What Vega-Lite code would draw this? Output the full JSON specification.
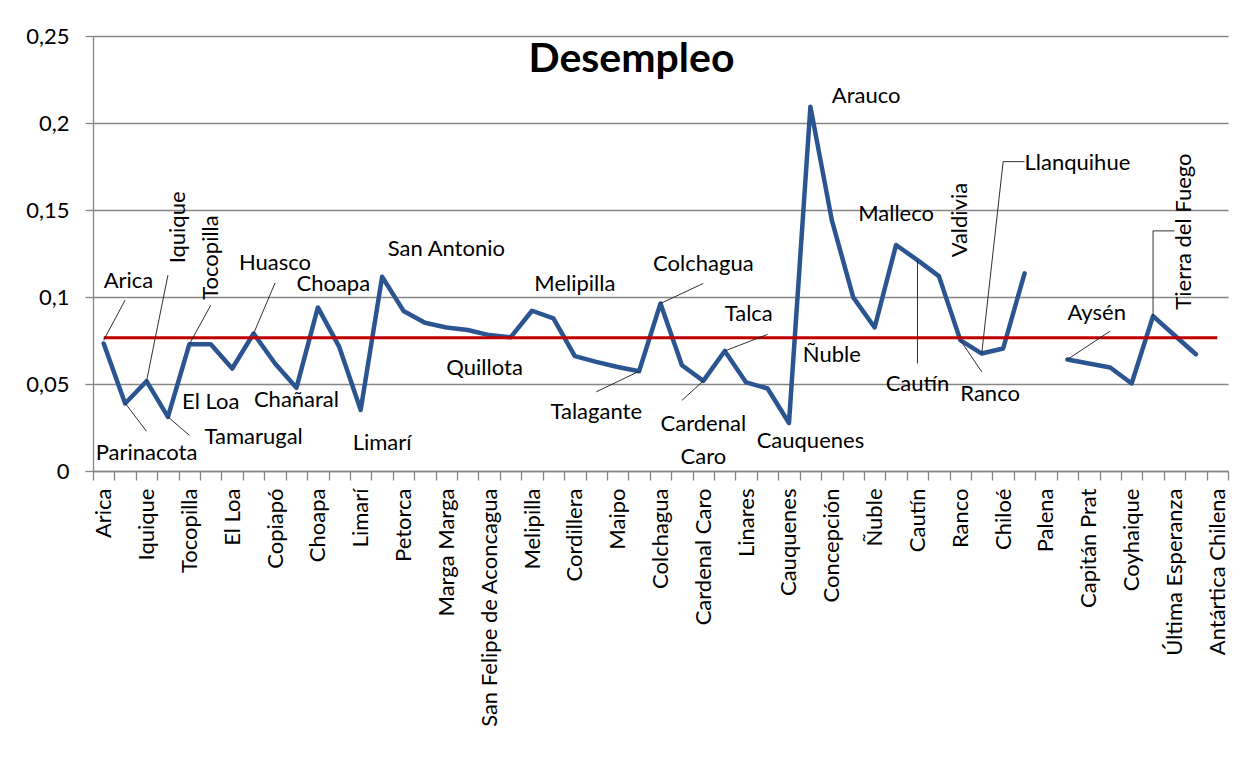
{
  "$schema": "https://vega.github.io/schema/vega-lite/v6.json",
  "width": 1135,
  "height": 435,
  "autosize": {"type": "none"},
  "padding": {"left": 93, "top": 36, "right": 26, "bottom": 299},
  "background": "white",
  "config": {"font": "Lato", "view": {"stroke": null}},
  "title": {"text": "Desempleo", "font": "Lato", "fontSize": 41, "fontWeight": "bold", "color": "black", "anchor": "middle", "frame": "group", "orient": "top", "offset": 0, "baseline": "alphabetic", "dx": -29, "dy": 88},
  "datasets": {
    "provincias": [
      {"provincia": "Arica", "desempleo": 0.0733, "promedio": 0.0766},
      {"provincia": "Parinacota", "desempleo": 0.0388, "promedio": 0.0766},
      {"provincia": "Iquique", "desempleo": 0.0516, "promedio": 0.0766},
      {"provincia": "Tamarugal", "desempleo": 0.0311, "promedio": 0.0766},
      {"provincia": "Tocopilla", "desempleo": 0.0729, "promedio": 0.0766},
      {"provincia": "Antofagasta", "desempleo": 0.0729, "promedio": 0.0766},
      {"provincia": "El Loa", "desempleo": 0.0589, "promedio": 0.0766},
      {"provincia": "Huasco", "desempleo": 0.079, "promedio": 0.0766},
      {"provincia": "Copiapó", "desempleo": 0.0618, "promedio": 0.0766},
      {"provincia": "Chañaral", "desempleo": 0.0478, "promedio": 0.0766},
      {"provincia": "Choapa", "desempleo": 0.094, "promedio": 0.0766},
      {"provincia": "Elqui", "desempleo": 0.0713, "promedio": 0.0766},
      {"provincia": "Limarí", "desempleo": 0.0351, "promedio": 0.0766},
      {"provincia": "San Antonio", "desempleo": 0.1116, "promedio": 0.0766},
      {"provincia": "Petorca", "desempleo": 0.092, "promedio": 0.0766},
      {"provincia": "Los Andes", "desempleo": 0.0852, "promedio": 0.0766},
      {"provincia": "Marga Marga", "desempleo": 0.0825, "promedio": 0.0766},
      {"provincia": "Quillota", "desempleo": 0.081, "promedio": 0.0766},
      {"provincia": "San Felipe de Aconcagua", "desempleo": 0.0781, "promedio": 0.0766},
      {"provincia": "Valparaíso", "desempleo": 0.0768, "promedio": 0.0766},
      {"provincia": "Melipilla", "desempleo": 0.0921, "promedio": 0.0766},
      {"provincia": "Santiago", "desempleo": 0.0877, "promedio": 0.0766},
      {"provincia": "Cordillera", "desempleo": 0.066, "promedio": 0.0766},
      {"provincia": "Chacabuco", "desempleo": 0.0627, "promedio": 0.0766},
      {"provincia": "Maipo", "desempleo": 0.0598, "promedio": 0.0766},
      {"provincia": "Talagante", "desempleo": 0.0573, "promedio": 0.0766},
      {"provincia": "Colchagua", "desempleo": 0.0963, "promedio": 0.0766},
      {"provincia": "Cachapoal", "desempleo": 0.0608, "promedio": 0.0766},
      {"provincia": "Cardenal Caro", "desempleo": 0.0518, "promedio": 0.0766},
      {"provincia": "Talca", "desempleo": 0.069, "promedio": 0.0766},
      {"provincia": "Linares", "desempleo": 0.0509, "promedio": 0.0766},
      {"provincia": "Curicó", "desempleo": 0.0474, "promedio": 0.0766},
      {"provincia": "Cauquenes", "desempleo": 0.0276, "promedio": 0.0766},
      {"provincia": "Arauco", "desempleo": 0.2094, "promedio": 0.0766},
      {"provincia": "Concepción", "desempleo": 0.1442, "promedio": 0.0766},
      {"provincia": "Biobío", "desempleo": 0.0998, "promedio": 0.0766},
      {"provincia": "Ñuble", "desempleo": 0.0825, "promedio": 0.0766},
      {"provincia": "Malleco", "desempleo": 0.1299, "promedio": 0.0766},
      {"provincia": "Cautín", "desempleo": 0.1212, "promedio": 0.0766},
      {"provincia": "Valdivia", "desempleo": 0.112, "promedio": 0.0766},
      {"provincia": "Ranco", "desempleo": 0.0752, "promedio": 0.0766},
      {"provincia": "Llanquihue", "desempleo": 0.0675, "promedio": 0.0766},
      {"provincia": "Chiloé", "desempleo": 0.0704, "promedio": 0.0766},
      {"provincia": "Osorno", "desempleo": 0.1136, "promedio": 0.0766},
      {"provincia": "Palena", "desempleo": null, "promedio": 0.0766},
      {"provincia": "Aysén", "desempleo": 0.0641, "promedio": 0.0766},
      {"provincia": "Capitán Prat", "desempleo": 0.0618, "promedio": 0.0766},
      {"provincia": "General Carrera", "desempleo": 0.0595, "promedio": 0.0766},
      {"provincia": "Coyhaique", "desempleo": 0.0503, "promedio": 0.0766},
      {"provincia": "Tierra del Fuego", "desempleo": 0.089, "promedio": 0.0766},
      {"provincia": "Última Esperanza", "desempleo": 0.078, "promedio": 0.0766},
      {"provincia": "Magallanes", "desempleo": 0.0671, "promedio": 0.0766},
      {"provincia": "Antártica Chilena", "desempleo": null, "promedio": 0.0766}
    ],
    "guias": [
      {"provincia": "Parinacota", "valor": 0.0982, "provincia2": "Arica", "valor2": 0.0752},
      {"provincia": "Iquique", "valor": 0.0228, "provincia2": "Parinacota", "valor2": 0.039},
      {"provincia": "Tamarugal", "valor": 0.1126, "provincia2": "Iquique", "valor2": 0.0516},
      {"provincia": "Tamarugal", "valor": 0.0311, "provincia2": "Tocopilla", "valor2": 0.0205},
      {"provincia": "Antofagasta", "valor": 0.0953, "provincia2": "Tocopilla", "valor2": 0.0729},
      {"provincia": "Copiapó", "valor": 0.108, "provincia2": "Huasco", "valor2": 0.079},
      {"provincia": "Chacabuco", "valor": 0.0455, "provincia2": "Talagante", "valor2": 0.0573},
      {"provincia": "Colchagua", "valor": 0.0963, "provincia2": "Cardenal Caro", "valor2": 0.1078},
      {"provincia": "Talca", "valor": 0.069, "provincia2": "Curicó", "valor2": 0.0785},
      {"provincia": "Cardenal Caro", "valor": 0.0518, "provincia2": "Cachapoal", "valor2": 0.0406},
      {"provincia": "Cautín", "valor": 0.1212, "provincia2": "Cautín", "valor2": 0.0618},
      {"provincia": "Ranco", "valor": 0.0752, "provincia2": "Llanquihue", "valor2": 0.057},
      {"provincia": "Llanquihue", "valor": 0.0675, "provincia2": "Chiloé", "valor2": 0.1778},
      {"provincia": "Chiloé", "valor": 0.1778, "provincia2": "Osorno", "valor2": 0.1778},
      {"provincia": "Aysén", "valor": 0.0641, "provincia2": "General Carrera", "valor2": 0.0804},
      {"provincia": "Tierra del Fuego", "valor": 0.089, "provincia2": "Tierra del Fuego", "valor2": 0.138},
      {"provincia": "Tierra del Fuego", "valor": 0.138, "provincia2": "Última Esperanza", "valor2": 0.138}
    ],
    "etiquetas_izq": [
      {"provincia": "Arica", "valor": 0.109, "texto": "Arica"},
      {"provincia": "Chañaral", "valor": 0.1074, "texto": "Choapa"},
      {"provincia": "Marga Marga", "valor": 0.0594, "texto": "Quillota"},
      {"provincia": "Talca", "valor": 0.0902, "texto": "Talca"},
      {"provincia": "Concepción", "valor": 0.2153, "texto": "Arauco"},
      {"provincia": "Ranco", "valor": 0.0441, "texto": "Ranco"},
      {"provincia": "Osorno", "valor": 0.1768, "texto": "Llanquihue"},
      {"provincia": "Aysén", "valor": 0.091, "texto": "Aysén"}
    ],
    "etiquetas_centro": [
      {"provincia": "Iquique", "valor": 0.0102, "texto": "Parinacota"},
      {"provincia": "Antofagasta", "valor": 0.0395, "texto": "El Loa"},
      {"provincia": "Huasco", "valor": 0.0194, "texto": "Tamarugal"},
      {"provincia": "Copiapó", "valor": 0.1198, "texto": "Huasco"},
      {"provincia": "Chañaral", "valor": 0.0407, "texto": "Chañaral"},
      {"provincia": "San Antonio", "valor": 0.016, "texto": "Limarí"},
      {"provincia": "Marga Marga", "valor": 0.1275, "texto": "San Antonio"},
      {"provincia": "Cordillera", "valor": 0.1074, "texto": "Melipilla"},
      {"provincia": "Chacabuco", "valor": 0.0338, "texto": "Talagante"},
      {"provincia": "Cardenal Caro", "valor": 0.1189, "texto": "Colchagua"},
      {"provincia": "Cardenal Caro", "valor": 0.0269, "texto": "Cardenal\nCaro"},
      {"provincia": "Arauco", "valor": 0.0171, "texto": "Cauquenes"},
      {"provincia": "Concepción", "valor": 0.0665, "texto": "Ñuble"},
      {"provincia": "Malleco", "valor": 0.1477, "texto": "Malleco"},
      {"provincia": "Cautín", "valor": 0.0499, "texto": "Cautín"}
    ],
    "etiquetas_vert_top": [
      {"provincia": "Tamarugal", "valor": 0.14, "texto": "Iquique"},
      {"provincia": "Última Esperanza", "valor": 0.1376, "texto": "Tierra del Fuego"}
    ],
    "etiquetas_vert_mid": [
      {"provincia": "Antofagasta", "valor": 0.1227, "texto": "Tocopilla"},
      {"provincia": "Ranco", "valor": 0.1442, "texto": "Valdivia"}
    ]
  },
  "encoding": {
    "x": {
      "field": "provincia",
      "type": "nominal",
      "title": null,
      "scale": {
        "type": "band",
        "paddingInner": 0,
        "paddingOuter": 0,
        "domain": ["Arica", "Parinacota", "Iquique", "Tamarugal", "Tocopilla", "Antofagasta", "El Loa", "Huasco", "Copiapó", "Chañaral", "Choapa", "Elqui", "Limarí", "San Antonio", "Petorca", "Los Andes", "Marga Marga", "Quillota", "San Felipe de Aconcagua", "Valparaíso", "Melipilla", "Santiago", "Cordillera", "Chacabuco", "Maipo", "Talagante", "Colchagua", "Cachapoal", "Cardenal Caro", "Talca", "Linares", "Curicó", "Cauquenes", "Arauco", "Concepción", "Biobío", "Ñuble", "Malleco", "Cautín", "Valdivia", "Ranco", "Llanquihue", "Chiloé", "Osorno", "Palena", "Aysén", "Capitán Prat", "General Carrera", "Coyhaique", "Tierra del Fuego", "Última Esperanza", "Magallanes", "Antártica Chilena"]
      },
      "axis": {
        "title": null,
        "grid": false,
        "domainColor": "#868686",
        "domainWidth": 1.3,
        "tickColor": "#868686",
        "tickWidth": 1.3,
        "tickSize": 9,
        "tickBand": "extent",
        "labelAngle": 270,
        "labelAlign": "right",
        "labelBaseline": "middle",
        "labelFont": "Lato",
        "labelFontSize": 22,
        "labelColor": "black",
        "labelPadding": 8,
        "labelOverlap": false,
        "labelLimit": 500,
        "labelExpr": "round(datum.index * 52) % 2 == 0 ? datum.label : ''"
      }
    }
  },
  "layer": [
    {
      "data": {"name": "provincias"},
      "mark": {"type": "line", "color": "#2B5590", "strokeWidth": 4.5, "strokeJoin": "round", "strokeCap": "round", "invalid": "break-paths-show-domains"},
      "encoding": {
        "y": {
          "field": "desempleo",
          "type": "quantitative",
          "title": null,
          "scale": {"domain": [0, 0.25], "nice": false, "zero": true},
          "axis": {
            "title": null,
            "values": [0, 0.05, 0.1, 0.15, 0.2, 0.25],
            "labelExpr": "replace(format(datum.value, '~g'), '.', ',')",
            "grid": true,
            "gridColor": "#868686",
            "gridWidth": 1.3,
            "domainColor": "#868686",
            "domainWidth": 1.3,
            "tickColor": "#868686",
            "tickWidth": 1.3,
            "tickSize": 8,
            "labelFont": "Lato",
            "labelFontSize": 22,
            "labelColor": "black",
            "labelPadding": 16
          }
        }
      }
    },
    {
      "data": {"name": "provincias"},
      "mark": {"type": "line", "color": "#C00000", "strokeWidth": 3},
      "encoding": {
        "y": {"field": "promedio", "type": "quantitative", "title": null}
      }
    },
    {
      "data": {"name": "guias"},
      "mark": {"type": "rule", "color": "#1a1a1a", "strokeWidth": 0.9},
      "encoding": {
        "x2": {"field": "provincia2"},
        "y": {"field": "valor", "type": "quantitative", "title": null},
        "y2": {"field": "valor2"}
      }
    },
    {
      "data": {"name": "etiquetas_izq"},
      "mark": {"type": "text", "font": "Lato", "fontSize": 22, "color": "black", "align": "left", "baseline": "middle"},
      "encoding": {
        "y": {"field": "valor", "type": "quantitative", "title": null},
        "text": {"field": "texto"}
      }
    },
    {
      "data": {"name": "etiquetas_centro"},
      "mark": {"type": "text", "font": "Lato", "fontSize": 22, "color": "black", "align": "center", "baseline": "middle", "lineBreak": "\n", "lineHeight": 33},
      "encoding": {
        "y": {"field": "valor", "type": "quantitative", "title": null},
        "text": {"field": "texto"}
      }
    },
    {
      "data": {"name": "etiquetas_vert_top"},
      "mark": {"type": "text", "font": "Lato", "fontSize": 22, "color": "black", "angle": 270, "align": "center", "baseline": "top"},
      "encoding": {
        "y": {"field": "valor", "type": "quantitative", "title": null},
        "text": {"field": "texto"}
      }
    },
    {
      "data": {"name": "etiquetas_vert_mid"},
      "mark": {"type": "text", "font": "Lato", "fontSize": 22, "color": "black", "angle": 270, "align": "center", "baseline": "middle"},
      "encoding": {
        "y": {"field": "valor", "type": "quantitative", "title": null},
        "text": {"field": "texto"}
      }
    }
  ]
}
